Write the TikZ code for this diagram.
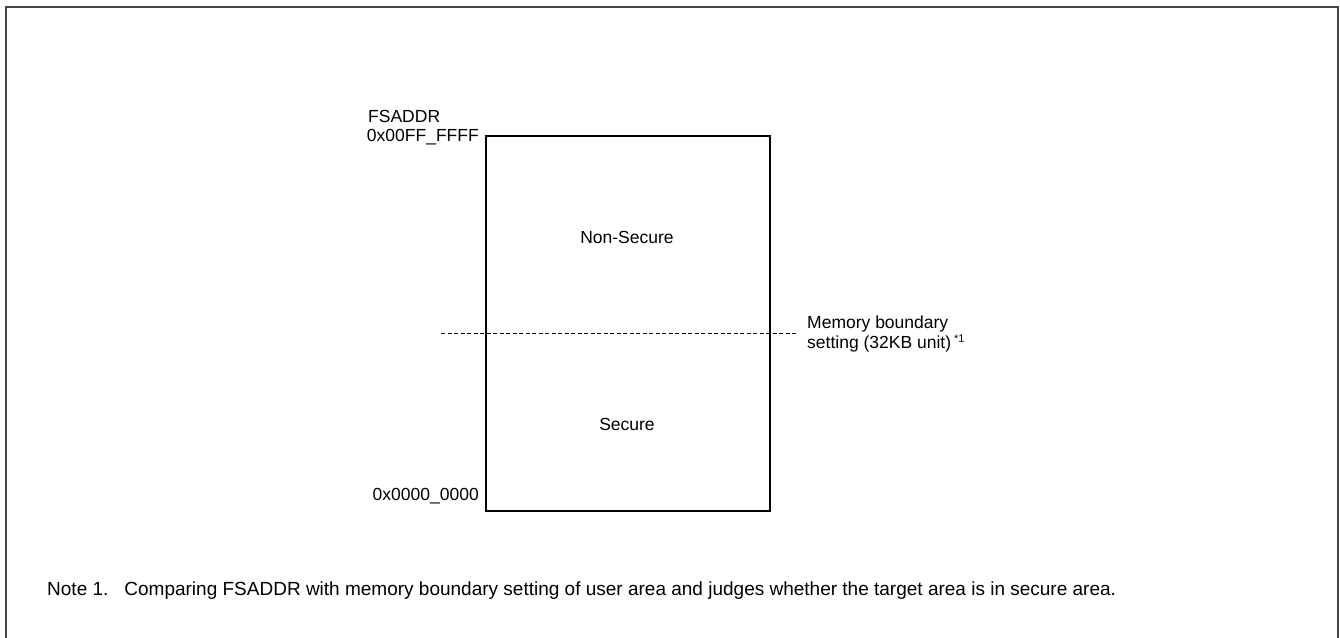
\documentclass[tikz,border=0pt]{standalone}
\usepackage{fontspec}
\setmainfont{Liberation Sans}
\usetikzlibrary{positioning}
\definecolor{frameGray}{HTML}{444444}

\begin{document}
\begin{tikzpicture}[x=1pt, y=-1pt, font=\fontsize{17.5}{20}\selectfont]
\tikzstyle{region}=[draw, line width=1.5pt, minimum width=284pt, minimum height=375pt, anchor=north west, inner sep=0pt]
\tikzstyle{lbl}=[inner sep=0pt, align=left]
\useasboundingbox (0,0) rectangle (1340,637);
\draw[frameGray, line width=1.6pt] (6,645) -- (6,7) -- (1338,7) -- (1338,645);
\node[region] (mem) at (485,135) {};
\node[lbl] (nonsec) at (627,237) {Non-Secure};
\node[lbl] (sec) at (627,424) {Secure};
\coordinate (bl) at (441,333);
\coordinate (br) at (797,333);
\draw[dashed, line width=0.8pt, dash pattern=on 4pt off 2.5pt] (bl) -- (br);
\node[lbl, anchor=west] (bnd) at (807,334) {Memory boundary\\[-0.5pt]setting (32KB unit)\,\raisebox{6pt}{\fontsize{11}{12}\selectfont *1}};
\node[lbl, anchor=west] (fsaddr) at (368,116) {FSADDR};
\node[lbl, anchor=east] (top) at (479,137) {0x00FF\_FFFF};
\node[lbl, anchor=east] (bot) at (479,496) {0x0000\_0000};
\node[lbl, anchor=west, font=\fontsize{19}{22}\selectfont] (note) at (47,591) {Note 1.\hspace{16pt}Comparing FSADDR with memory boundary setting of user area and judges whether the target area is in secure area.};
\end{tikzpicture}
\end{document}
